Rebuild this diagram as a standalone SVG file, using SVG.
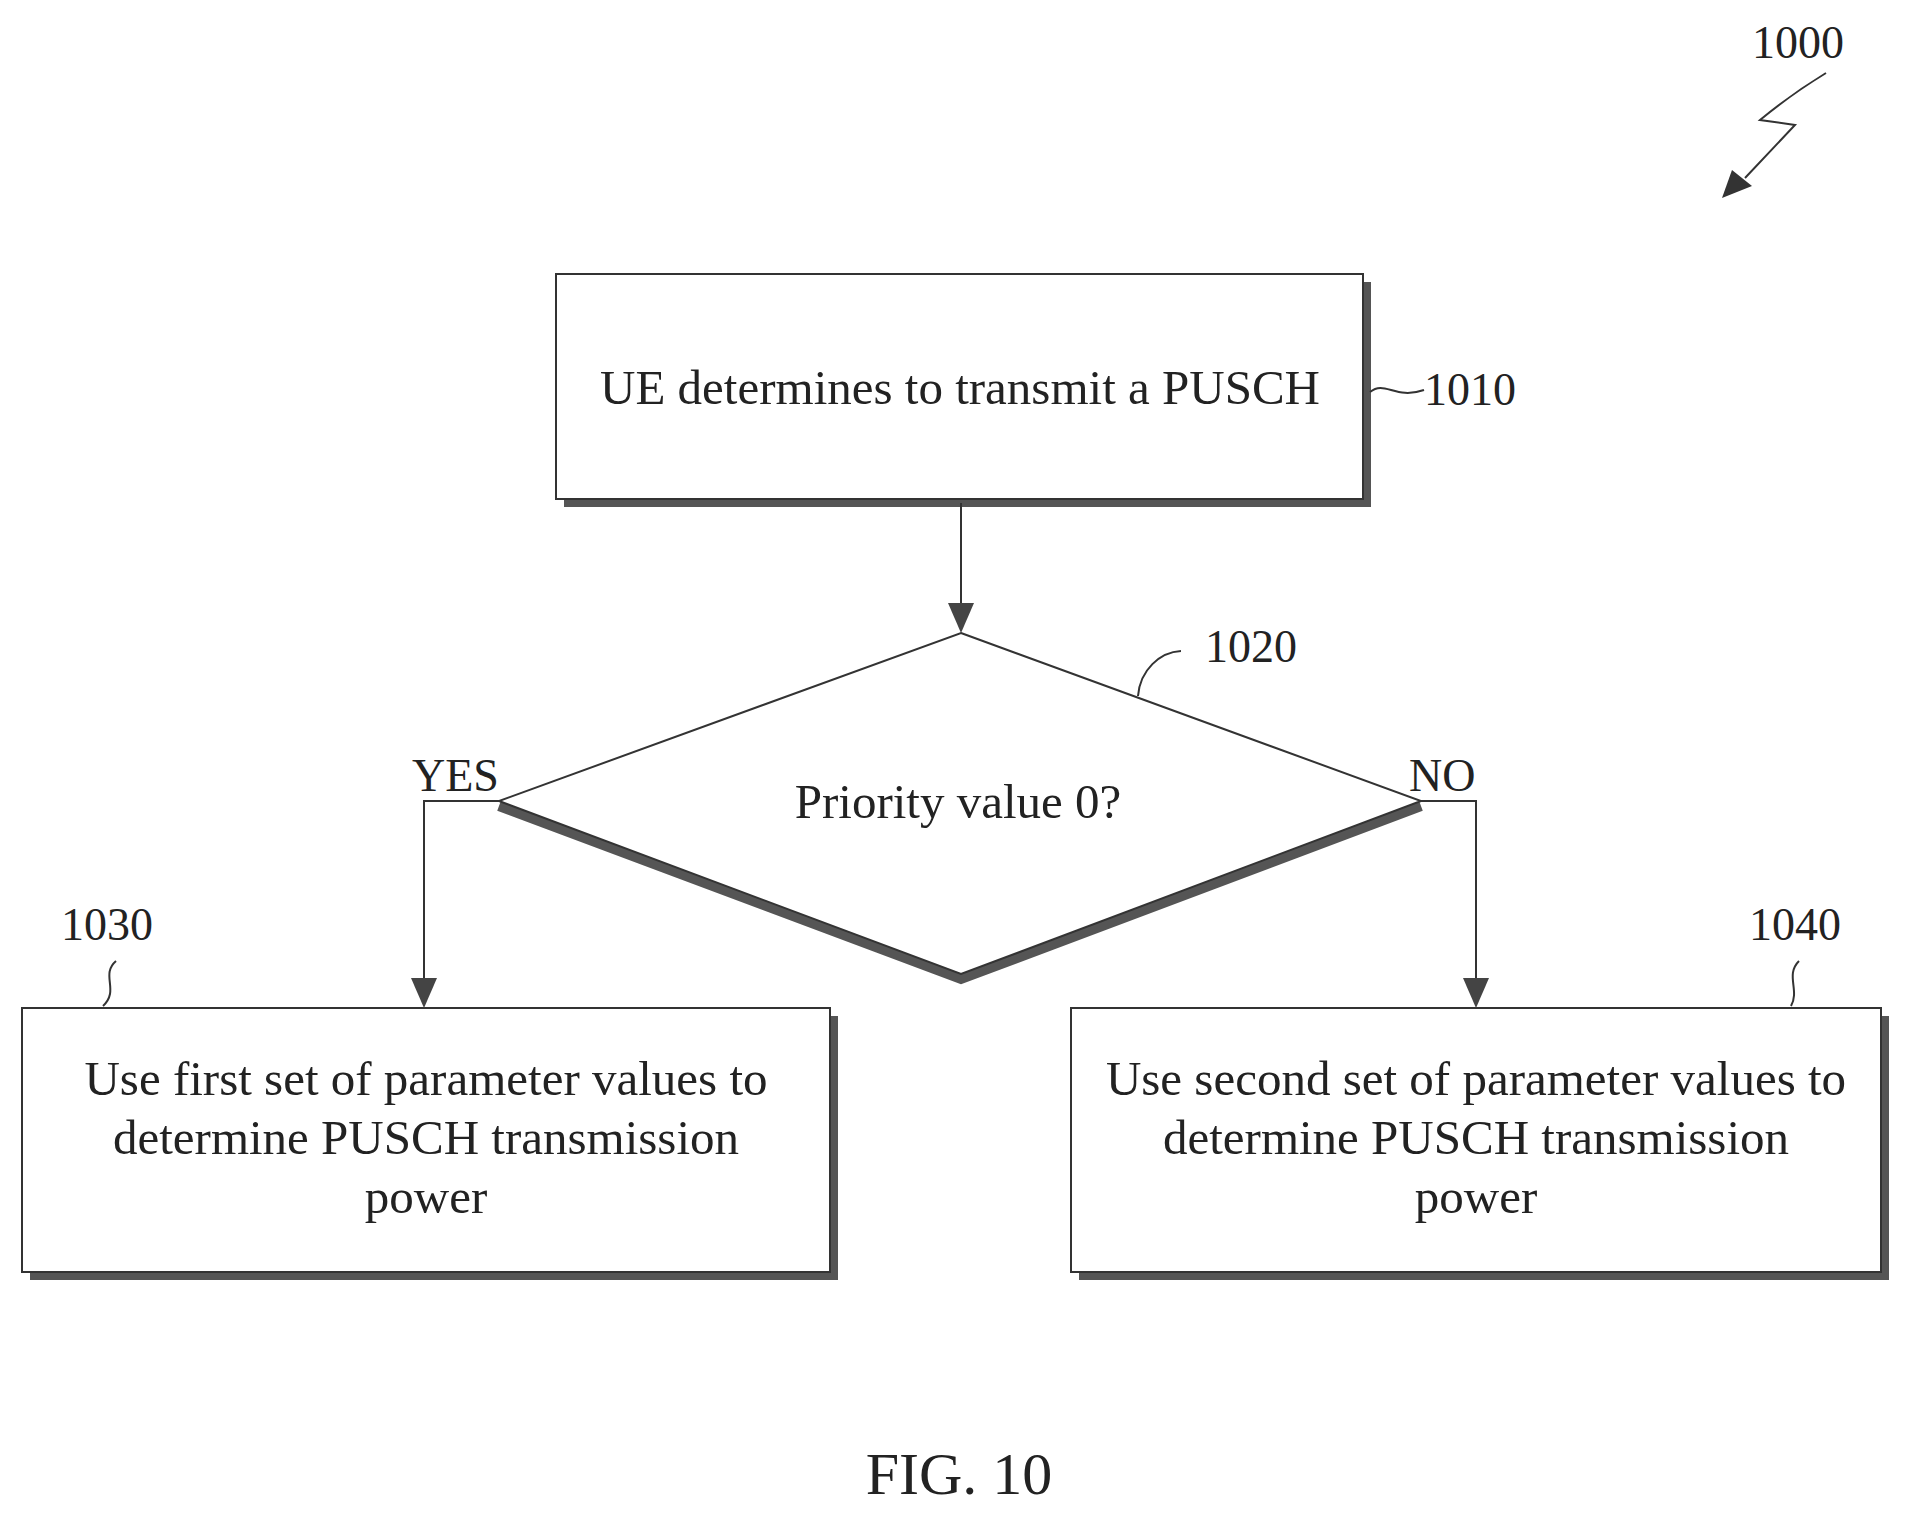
<svg xmlns="http://www.w3.org/2000/svg" width="1908" height="1518" viewBox="0 0 1908 1518">
<style>
text{font-family:"Liberation Serif","Times New Roman",serif;fill:#222}
.t{font-size:49px;text-anchor:middle}
.l{font-size:46px}
.box{fill:#fff;stroke:#333;stroke-width:2}
.sh{fill:#555}
.ln{fill:none;stroke:#333;stroke-width:2}
</style>
<rect width="1908" height="1518" fill="#fff"/>
<g id="n1000">
<text class="l" x="1752" y="58">1000</text>
<path class="ln" d="M1826,73 Q1790,95 1760,120 L1795,125 L1745,178"/>
<polygon points="1722,198 1732,170 1752,186" fill="#333"/>
</g>
<g id="n1010">
<rect class="sh" x="564" y="282" width="807" height="225"/>
<rect class="box" x="556" y="274" width="807" height="225"/>
<text class="t" x="960" y="404">UE determines to transmit a PUSCH</text>
<path class="ln" d="M1370,392 C1385,380 1395,400 1424,390"/>
<text class="l" x="1424" y="405">1010</text>
</g>
<g id="n1020">
<polyline points="499,806 961,979 1421,806" fill="none" stroke="#555" stroke-width="10"/>
<polygon points="961,633 1421,801 961,974 499,801" class="box"/>
<text class="t" x="958" y="818">Priority value 0?</text>
<path class="ln" d="M1138,696 C1140,670 1160,652 1181,651"/>
<text class="l" x="1205" y="662">1020</text>
</g>
<g id="n1030">
<rect class="sh" x="30" y="1016" width="808" height="264"/>
<rect class="box" x="22" y="1008" width="808" height="264"/>
<text class="t" x="426" y="1095">Use first set of parameter values to</text>
<text class="t" x="426" y="1154">determine PUSCH transmission</text>
<text class="t" x="426" y="1213">power</text>
<path class="ln" d="M116,961 C100,975 120,990 103,1006"/>
<text class="l" x="61" y="940">1030</text>
</g>
<g id="n1040">
<rect class="sh" x="1079" y="1016" width="810" height="264"/>
<rect class="box" x="1071" y="1008" width="810" height="264"/>
<text class="t" x="1476" y="1095">Use second set of parameter values to</text>
<text class="t" x="1476" y="1154">determine PUSCH transmission</text>
<text class="t" x="1476" y="1213">power</text>
<path class="ln" d="M1799,961 C1785,975 1800,990 1791,1006"/>
<text class="l" x="1749" y="940">1040</text>
</g>
<g id="connectors">
<path class="ln" d="M961,503 V605"/>
<polygon points="948,603 974,603 961,633" fill="#444"/>
<path class="ln" d="M499,801 H424 V980"/>
<polygon points="411,978 437,978 424,1008" fill="#444"/>
<path class="ln" d="M1421,801 H1476 V980"/>
<polygon points="1463,978 1489,978 1476,1008" fill="#444"/>
<text class="l" x="412" y="791">YES</text>
<text class="l" x="1409" y="791">NO</text>
</g>
<text x="959" y="1494" font-size="60" text-anchor="middle">FIG. 10</text>
</svg>
